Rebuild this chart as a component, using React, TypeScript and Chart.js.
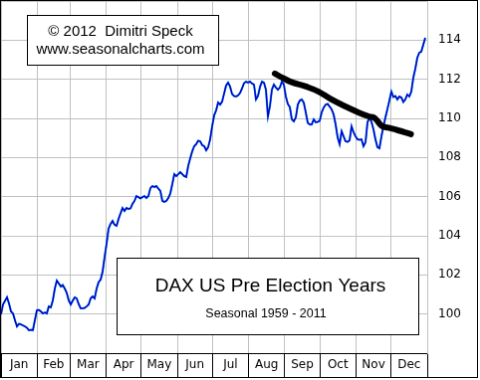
import { useEffect, useRef } from 'react';
import { Chart, registerables } from 'chart.js';

Chart.register(...registerables);

const MONTHS = ['Jan', 'Feb', 'Mar', 'Apr', 'May', 'Jun', 'Jul', 'Aug', 'Sep', 'Oct', 'Nov', 'Dec'];
const MONTH_START_DAYS = [0, 31, 59, 90, 120, 151, 181, 212, 243, 273, 304, 334, 365];
const Y_MIN = 98;
const Y_MAX = 116;
const Y_STEP = 2;

const SEASONAL_VALUES = [
  99.98, 100.49, 100.67, 100.85, 100.54, 100.13, 100.03, 99.68, 99.37, 99.5,
  99.47, 99.42, 99.37, 99.3, 99.17, 99.19, 99.17, 99.68, 100.19, 100.21,
  100.13, 100.03, 100.08, 100.03, 100.39, 100.34, 100.69, 101.3, 101.71, 101.56,
  101.41, 101.48, 101.3, 101.08, 100.69, 100.49, 100.69, 100.85, 100.8, 100.51,
  100.29, 100.29, 100.31, 100.39, 100.49, 100.8, 100.9, 100.8, 101.3, 101.63,
  101.76, 102.17, 102.93, 103.59, 104.36, 104.61, 104.76, 104.56, 104.51, 104.86,
  105.14, 105.42, 105.27, 105.42, 105.37, 105.4, 105.63, 105.78, 106.03, 105.98,
  105.91, 105.98, 106.03, 105.93, 106.03, 106.44, 106.54, 106.49, 106.54, 106.41,
  106.29, 105.78, 105.73, 105.78, 105.93, 106.16, 106.64, 107.15, 107.05, 107.15,
  107.25, 107.15, 107.05, 107.0, 107.58, 107.97, 108.32, 108.58, 108.68, 108.86,
  108.83, 108.63, 108.58, 108.37, 108.53, 108.93, 109.59, 110.15, 110.41, 110.81,
  110.71, 110.86, 111.27, 111.68, 111.83, 111.63, 111.25, 111.14, 111.12, 111.17,
  111.3, 111.53, 111.8, 111.88, 111.83, 111.88, 111.78, 111.73, 110.97, 111.14,
  111.6, 111.88, 111.83, 111.47, 110.1, 110.61, 111.47, 111.73, 111.58, 111.47,
  111.58, 111.88, 111.73, 111.12, 110.74, 110.58, 109.95, 109.85, 110.05, 110.71,
  110.91, 110.97, 110.81, 110.31, 109.77, 109.69, 109.69, 109.95, 109.8, 109.82,
  109.87, 110.31, 110.56, 110.71, 110.74, 110.61, 110.46, 110.2, 109.69, 109.03,
  108.68, 109.34, 109.08, 108.83, 108.8, 108.88, 109.59, 109.29, 109.08, 108.93,
  108.91, 108.93, 108.58, 108.78, 109.8, 110.05, 109.82, 109.44, 108.93, 108.53,
  108.47, 109.08, 109.59, 110.05, 110.48, 110.91, 111.37, 111.09, 111.14, 110.97,
  111.12, 111.07, 110.84, 110.97, 111.22, 111.12, 111.37, 112.08, 112.54, 113.1,
  113.36, 113.41, 113.76, 114.12,
];
const SEASONAL_LAST_DAY = 363.3;

// Hand-drawn trend line
const TREND_DAYS = [234.5, 241, 249, 261, 272, 283, 295, 306, 315, 320, 326, 332, 340, 351];
const TREND_VALUES = [112.29, 112.08, 111.85, 111.63, 111.37, 110.97, 110.61, 110.31, 110.1, 110.02, 109.62, 109.52, 109.39, 109.19];

const COPYRIGHT_LINES = ['\u00A9 2012  Dimitri Speck', 'www.seasonalcharts.com'];
const TITLE = 'DAX US Pre Election Years';
const SUBTITLE = 'Seasonal 1959 - 2011';

const MONTH_MIDS = MONTHS.map((_, i) => (MONTH_START_DAYS[i] + MONTH_START_DAYS[i + 1]) / 2);
const TRANSPARENT = 'rgba(0,0,0,0)';
const GRID = '#c0c0c0';

const boxesPlugin = {
  id: 'textBoxes',
  afterDatasetsDraw(chart: any) {
    const ctx = chart.ctx as CanvasRenderingContext2D;
    ctx.save();
    ctx.lineWidth = 1;
    ctx.strokeStyle = '#000';
    // copyright box
    ctx.fillStyle = '#fff';
    ctx.fillRect(26, 14, 193, 51);
    ctx.strokeRect(26.5, 14.5, 192, 50);
    ctx.fillStyle = '#000';
    ctx.textAlign = 'center';
    ctx.textBaseline = 'alphabetic';
    ctx.font = '15px "Liberation Sans", Arial, sans-serif';
    ctx.fillText(COPYRIGHT_LINES[0], 120, 35);
    ctx.fillText(COPYRIGHT_LINES[1], 120, 53);
    // title box
    ctx.fillStyle = '#fff';
    ctx.fillRect(116, 258, 304, 78);
    ctx.strokeRect(116.5, 258.5, 303, 77);
    ctx.fillStyle = '#000';
    ctx.font = '19px "Liberation Sans", Arial, sans-serif';
    ctx.fillText(TITLE, 270.5, 292);
    ctx.font = '12.5px "Liberation Sans", Arial, sans-serif';
    ctx.fillText(SUBTITLE, 266, 318);
    ctx.restore();
  },
};

export default function App() {
  const ref = useRef<HTMLCanvasElement>(null);

  useEffect(() => {
    const n = SEASONAL_VALUES.length;
    const seasonal = SEASONAL_VALUES.map((v, i) => ({ x: (i * SEASONAL_LAST_DAY) / (n - 1), y: v }));
    const trend = TREND_DAYS.map((d, i) => ({ x: d, y: TREND_VALUES[i] }));
    const isBoundary = (v: number) => MONTH_START_DAYS.indexOf(v) >= 0;

    const chart = new Chart(ref.current!, {
      type: 'line',
      data: {
        datasets: [
          {
            data: trend,
            borderColor: '#000',
            borderWidth: 6,
            borderCapStyle: 'round',
            borderJoinStyle: 'round',
            tension: 0.4,
            pointRadius: 0,
          },
          {
            data: seasonal,
            borderColor: '#0000c8',
            borderWidth: 1.5,
            tension: 0,
            pointRadius: 0,
          },
          {
            data: seasonal,
            borderColor: '#20a8f0',
            borderWidth: 2.1,
            tension: 0,
            pointRadius: 0,
          },
        ],
      },
      options: {
        animation: false,
        responsive: false,
        devicePixelRatio: 1,
        events: [],
        layout: { padding: 0 },
        plugins: { legend: { display: false }, tooltip: { enabled: false } },
        scales: {
          x: {
            type: 'linear',
            position: 'bottom',
            min: 0,
            max: 365,
            afterBuildTicks: (scale: any) => {
              scale.ticks = [...MONTH_START_DAYS, ...MONTH_MIDS]
                .sort((a, b) => a - b)
                .map((v) => ({ value: v }));
            },
            afterFit: (scale: any) => {
              scale.height = 24;
              scale.paddingLeft = 0;
              scale.paddingRight = 0;
            },
            ticks: {
              autoSkip: false,
              maxRotation: 0,
              minRotation: 0,
              padding: -19,
              color: '#000',
              font: { family: '"DejaVu Sans", sans-serif', size: 12 },
              callback: (v: any) => {
                const i = MONTH_MIDS.indexOf(Number(v));
                return i >= 0 ? MONTHS[i] : '';
              },
            },
            grid: {
              color: (c: any) => (c.tick && isBoundary(c.tick.value) ? GRID : TRANSPARENT),
              tickColor: (c: any) => (c.tick && isBoundary(c.tick.value) ? '#000' : TRANSPARENT),
              tickLength: 24,
              drawTicks: true,
              lineWidth: 1,
            },
            border: { color: '#000', width: 1 },
          },
          y: {
            type: 'linear',
            position: 'right',
            min: Y_MIN,
            max: Y_MAX,
            afterFit: (scale: any) => {
              scale.width = 50;
              scale.paddingTop = 0;
              scale.paddingBottom = 0;
            },
            ticks: {
              stepSize: Y_STEP,
              padding: 11,
              color: '#000',
              font: { family: '"DejaVu Sans", sans-serif', size: 12 },
              callback: (v: any) => (v === Y_MIN || v === Y_MAX ? '' : String(v)),
            },
            grid: {
              color: (c: any) => (c.tick && c.tick.value === Y_MIN ? TRANSPARENT : GRID),
              drawTicks: false,
              lineWidth: 1,
            },
            border: { color: GRID, width: 1 },
          },
        },
      },
      plugins: [boxesPlugin],
    } as any);
    return () => chart.destroy();
  }, []);

  return (
    <div style={{ position: 'absolute', left: 0, top: 0 }}>
      <canvas
        ref={ref}
        width={478}
        height={378}
        style={{ display: 'block', border: '1px solid #000', width: 478, height: 378 }}
      />
    </div>
  );
}
